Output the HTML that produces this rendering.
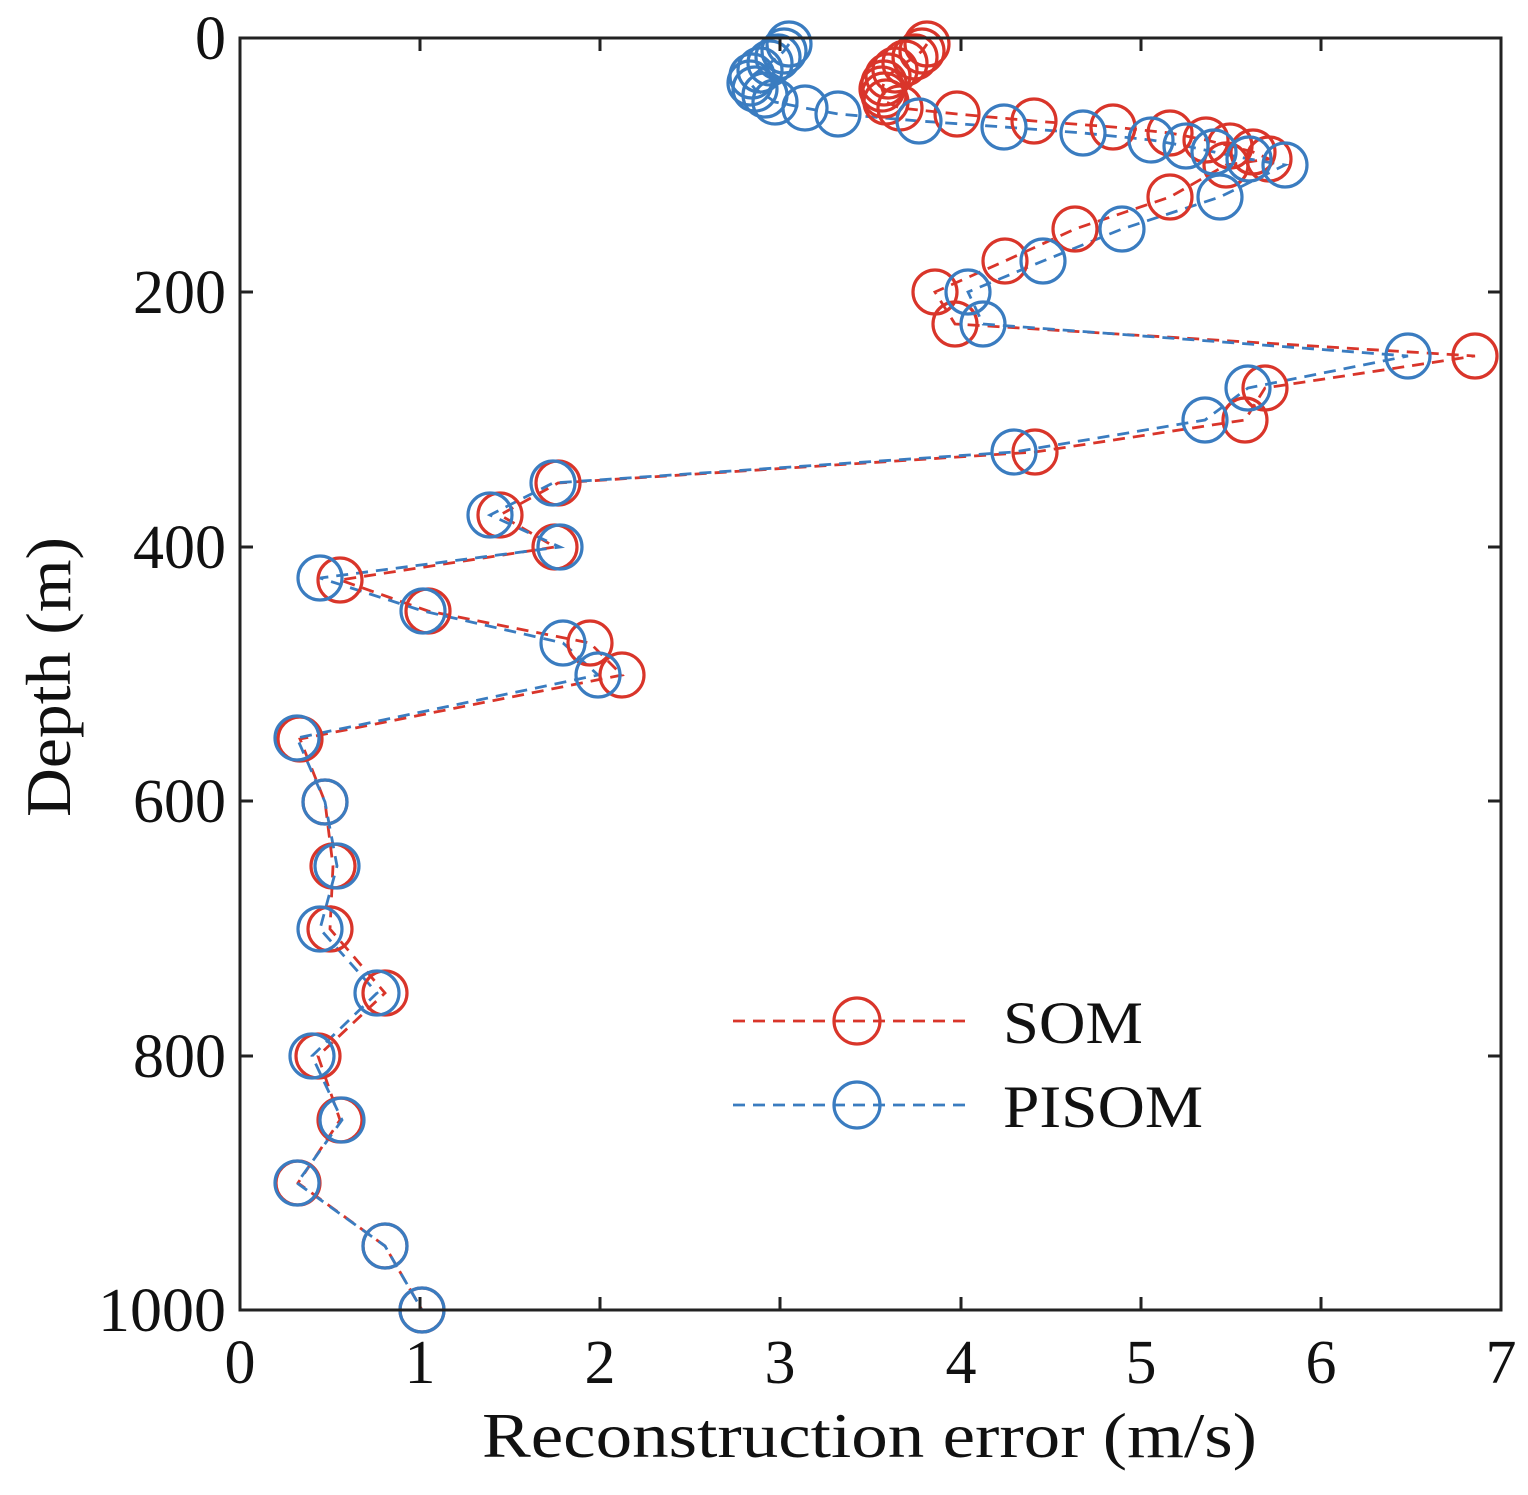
<!DOCTYPE html>
<html><head><style>body{margin:0;background:#fff}svg{display:block}</style></head><body>
<svg width="1528" height="1495" viewBox="0 0 1528 1495" xmlns="http://www.w3.org/2000/svg" font-family="'Liberation Serif',serif" fill="#111">
<g fill="none" stroke-width="2.8" stroke-dasharray="12,8">
<polyline stroke="#d9352a" points="927,44 922,51 915,57 905,63 895,70 888,76 884,83 882,89 884,95 886,102 900,108 957,114 1034,121 1113,127 1170,133 1206,140 1230,146 1253,152 1269,159 1226,165 1170,197 1075,229 1005,261 935,292 955,324 1475,356 1265,388 1245,420 1035,452 558,483 500,515 555,547 340,580 428,611 590,643 622,675 300,739 325,802 333,866 330,929 385,993 318,1056 340,1120 298,1183 385,1246 422,1310"/>
<polyline stroke="#3a7cc0" points="789,44 784,51 778,57 770,63 760,70 752,76 750,83 755,89 765,95 775,102 805,108 838,114 919,121 1004,127 1083,133 1151,140 1186,146 1214,152 1249,159 1285,165 1220,197 1122,229 1043,261 968,292 983,324 1408,356 1248,388 1205,420 1014,452 553,483 490,515 560,547 320,578 423,611 563,643 598,675 297,738 325,802 337,866 320,929 377,993 312,1056 342,1120 297,1183 385,1246 422,1310"/>
</g>
<g fill="none" stroke="#d9352a" stroke-width="3.2">
<circle cx="927" cy="44" r="22"/><circle cx="922" cy="51" r="22"/><circle cx="915" cy="57" r="22"/><circle cx="905" cy="63" r="22"/><circle cx="895" cy="70" r="22"/><circle cx="888" cy="76" r="22"/><circle cx="884" cy="83" r="22"/><circle cx="882" cy="89" r="22"/><circle cx="884" cy="95" r="22"/><circle cx="886" cy="102" r="22"/><circle cx="900" cy="108" r="22"/><circle cx="957" cy="114" r="22"/><circle cx="1034" cy="121" r="22"/><circle cx="1113" cy="127" r="22"/><circle cx="1170" cy="133" r="22"/><circle cx="1206" cy="140" r="22"/><circle cx="1230" cy="146" r="22"/><circle cx="1253" cy="152" r="22"/><circle cx="1269" cy="159" r="22"/><circle cx="1226" cy="165" r="22"/><circle cx="1170" cy="197" r="22"/><circle cx="1075" cy="229" r="22"/><circle cx="1005" cy="261" r="22"/><circle cx="935" cy="292" r="22"/><circle cx="955" cy="324" r="22"/><circle cx="1475" cy="356" r="22"/><circle cx="1265" cy="388" r="22"/><circle cx="1245" cy="420" r="22"/><circle cx="1035" cy="452" r="22"/><circle cx="558" cy="483" r="22"/><circle cx="500" cy="515" r="22"/><circle cx="555" cy="547" r="22"/><circle cx="340" cy="580" r="22"/><circle cx="428" cy="611" r="22"/><circle cx="590" cy="643" r="22"/><circle cx="622" cy="675" r="22"/><circle cx="300" cy="739" r="22"/><circle cx="325" cy="802" r="22"/><circle cx="333" cy="866" r="22"/><circle cx="330" cy="929" r="22"/><circle cx="385" cy="993" r="22"/><circle cx="318" cy="1056" r="22"/><circle cx="340" cy="1120" r="22"/><circle cx="298" cy="1183" r="22"/><circle cx="385" cy="1246" r="22"/><circle cx="422" cy="1310" r="22"/>
</g>
<g fill="none" stroke="#3a7cc0" stroke-width="3.2">
<circle cx="789" cy="44" r="22"/><circle cx="784" cy="51" r="22"/><circle cx="778" cy="57" r="22"/><circle cx="770" cy="63" r="22"/><circle cx="760" cy="70" r="22"/><circle cx="752" cy="76" r="22"/><circle cx="750" cy="83" r="22"/><circle cx="755" cy="89" r="22"/><circle cx="765" cy="95" r="22"/><circle cx="775" cy="102" r="22"/><circle cx="805" cy="108" r="22"/><circle cx="838" cy="114" r="22"/><circle cx="919" cy="121" r="22"/><circle cx="1004" cy="127" r="22"/><circle cx="1083" cy="133" r="22"/><circle cx="1151" cy="140" r="22"/><circle cx="1186" cy="146" r="22"/><circle cx="1214" cy="152" r="22"/><circle cx="1249" cy="159" r="22"/><circle cx="1285" cy="165" r="22"/><circle cx="1220" cy="197" r="22"/><circle cx="1122" cy="229" r="22"/><circle cx="1043" cy="261" r="22"/><circle cx="968" cy="292" r="22"/><circle cx="983" cy="324" r="22"/><circle cx="1408" cy="356" r="22"/><circle cx="1248" cy="388" r="22"/><circle cx="1205" cy="420" r="22"/><circle cx="1014" cy="452" r="22"/><circle cx="553" cy="483" r="22"/><circle cx="490" cy="515" r="22"/><circle cx="560" cy="547" r="22"/><circle cx="320" cy="578" r="22"/><circle cx="423" cy="611" r="22"/><circle cx="563" cy="643" r="22"/><circle cx="598" cy="675" r="22"/><circle cx="297" cy="738" r="22"/><circle cx="325" cy="802" r="22"/><circle cx="337" cy="866" r="22"/><circle cx="320" cy="929" r="22"/><circle cx="377" cy="993" r="22"/><circle cx="312" cy="1056" r="22"/><circle cx="342" cy="1120" r="22"/><circle cx="297" cy="1183" r="22"/><circle cx="385" cy="1246" r="22"/><circle cx="422" cy="1310" r="22"/>
</g>
<g stroke="#222" stroke-width="3" fill="none">
<rect x="240" y="38" width="1261" height="1272"/>
<path d="M420,1310v-13M600,1310v-13M780,1310v-13M961,1310v-13M1141,1310v-13M1321,1310v-13M420,38v13M600,38v13M780,38v13M961,38v13M1141,38v13M1321,38v13M240,292h13M240,547h13M240,801h13M240,1056h13M1501,292h-13M1501,547h-13M1501,801h-13M1501,1056h-13"/>
</g>
<g font-size="62" text-anchor="end">
<text x="226" y="59">0</text><text x="226" y="313">200</text><text x="226" y="568">400</text><text x="226" y="822">600</text><text x="226" y="1077">800</text><text x="226" y="1331" textLength="128" lengthAdjust="spacingAndGlyphs">1000</text>
</g>
<g font-size="62" text-anchor="middle">
<text x="240" y="1383">0</text><text x="420" y="1383">1</text><text x="600" y="1383">2</text><text x="780" y="1383">3</text><text x="961" y="1383">4</text><text x="1141" y="1383">5</text><text x="1321" y="1383">6</text><text x="1501" y="1383">7</text>
</g>
<text x="482" y="1457" font-size="64" textLength="775" lengthAdjust="spacingAndGlyphs">Reconstruction error (m/s)</text>
<text transform="translate(70,817) rotate(-90)" font-size="64" textLength="280" lengthAdjust="spacingAndGlyphs">Depth (m)</text>
<line x1="733" y1="1021" x2="970" y2="1021" stroke="#d9352a" stroke-width="2.8" stroke-dasharray="12,8"/>
<circle cx="857" cy="1021" r="23" fill="none" stroke="#d9352a" stroke-width="3.2"/>
<line x1="733" y1="1105" x2="970" y2="1105" stroke="#3a7cc0" stroke-width="2.8" stroke-dasharray="12,8"/>
<circle cx="857" cy="1105" r="23" fill="none" stroke="#3a7cc0" stroke-width="3.2"/>
<text x="1003" y="1043" font-size="60" textLength="140" lengthAdjust="spacingAndGlyphs">SOM</text>
<text x="1003" y="1127" font-size="60" textLength="200" lengthAdjust="spacingAndGlyphs">PISOM</text>
</svg>
</body></html>
